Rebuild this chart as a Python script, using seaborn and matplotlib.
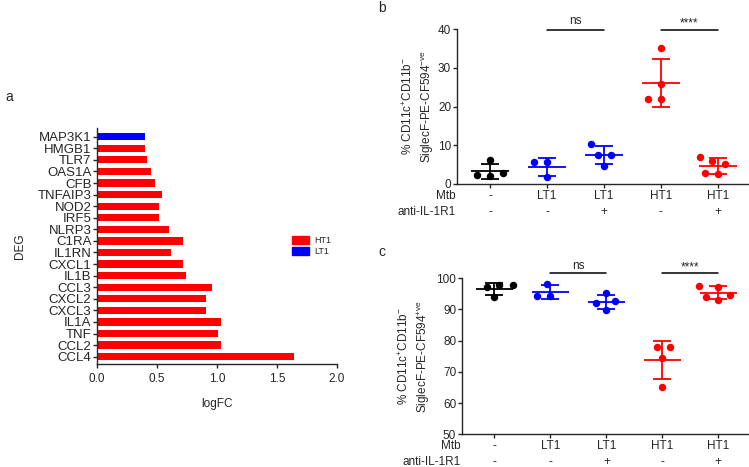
import matplotlib
matplotlib.use("Agg")
import matplotlib.pyplot as plt
import matplotlib.patches as mpatches
import seaborn as sns
import pandas as pd
import numpy as np

sns.set_style("ticks")
plt.rcParams["font.family"] = ["Liberation Sans", "DejaVu Sans"]
plt.rcParams["mathtext.fontset"] = "custom"
plt.rcParams["mathtext.rm"] = "Liberation Sans"
plt.rcParams["axes.linewidth"] = 1.0
plt.rcParams["xtick.major.width"] = 1.0
plt.rcParams["ytick.major.width"] = 1.0
plt.rcParams["xtick.major.size"] = 3
plt.rcParams["ytick.major.size"] = 3

# panel a data (top to bottom)
genes = ["MAP3K1", "HMGB1", "TLR7", "OAS1A", "CFB", "TNFAIP3", "NOD2", "IRF5",
         "NLRP3", "C1RA", "IL1RN", "CXCL1", "IL1B", "CCL3", "CXCL2", "CXCL3",
         "IL1A", "TNF", "CCL2", "CCL4"]
logfc = [0.40, 0.40, 0.415, 0.45, 0.48, 0.54, 0.52, 0.52, 0.60, 0.715,
         0.615, 0.72, 0.745, 0.96, 0.91, 0.91, 1.03, 1.01, 1.03, 1.64]
condition = ["LT1"] + ["HT1"] * 19
cond_colors = {"HT1": "#ff0000", "LT1": "#0000ff"}

# panels b and c data
groups = ["-/-", "LT1/-", "LT1/+", "HT1/-", "HT1/+"]
mtb_labels = ["-", "LT1", "LT1", "HT1", "HT1"]
ab_labels = ["-", "-", "+", "-", "+"]
group_colors = ["#000000", "#0000ff", "#0000ff", "#ff0000", "#ff0000"]

neg_vals = [[2.9, 6.2, 2.2, 2.1],
            [5.8, 5.8, 1.7],
            [10.2, 7.5, 7.5, 4.6],
            [35.0, 25.8, 21.9, 21.9],
            [7.05, 5.85, 5.2, 2.75, 2.5]]
pos_vals = [[97.9, 97.9, 97.1, 93.9],
            [98.2, 94.3, 94.3],
            [95.4, 92.6, 92.0, 89.7],
            [78.0, 78.0, 74.4, 65.2],
            [97.6, 97.3, 94.8, 94.1, 92.9]]

W, H = 749, 467
fig = plt.figure(figsize=(W / 100, H / 100), dpi=100)


def px_axes(left, top, right, bottom):
    return fig.add_axes([left / W, 1 - bottom / H, (right - left) / W, (bottom - top) / H])


# ---- panel a ----
ax_a = px_axes(97, 128, 337, 364)
df_a = pd.DataFrame({"gene": genes, "logfc": logfc, "cond": condition})
sns.barplot(data=df_a, x="logfc", y="gene", hue="cond", order=genes,
            palette=cond_colors, dodge=False, width=0.63, legend=False, ax=ax_a,
            edgecolor="none", saturation=1)
ax_a.set_xlim(0, 2.0)
ax_a.set_ylim(len(genes) - 0.37, -0.75)
ax_a.set_xticks([0, 0.5, 1.0, 1.5, 2.0])
ax_a.set_xticklabels(["0.0", "0.5", "1.0", "1.5", "2.0"], fontsize=8.5)
ax_a.tick_params(axis="y", labelsize=9.5, pad=1)
ax_a.set_xlabel("logFC", fontsize=8.5, labelpad=9)
ax_a.set_ylabel("DEG", fontsize=8.5, labelpad=8)
sns.despine(ax=ax_a)
handles = [mpatches.Patch(color=cond_colors[c], label=c) for c in ["HT1", "LT1"]]
fig.legend(handles=handles, loc="center left", bbox_to_anchor=(284 / W, 1 - 246 / H),
           frameon=False, fontsize=6.5, handlelength=1.9, handleheight=1.0,
           handletextpad=0.6, labelspacing=0.3)

swarms = []


# ---- panels b, c ----
def dot_panel(ax, values, ylabel, label_x, ylim, yticks, sig_y, ns_y, star_y):
    df = pd.DataFrame({
        "group": [g for g, v in zip(groups, values) for _ in v],
        "value": [x for v in values for x in v],
    })
    n0 = len(ax.collections)
    sns.swarmplot(data=df, x="group", y="value", hue="group", order=groups,
                  hue_order=groups, palette=group_colors, size=9, legend=False,
                  ax=ax, zorder=3, linewidth=0)
    swarms.append((ax, list(ax.collections[n0:])))
    for i, v in enumerate(values):
        m, sd = np.mean(v), np.std(v, ddof=1)
        ax.hlines(m, i - 0.33, i + 0.33, color=group_colors[i], lw=1.3, zorder=2)
        ax.errorbar(i, m, yerr=sd, color=group_colors[i], capsize=6.7,
                    lw=1.3, capthick=1.3, zorder=2)
    ax.set_xlim(-0.585, 4.53)
    ax.set_ylim(*ylim)
    ax.set_yticks(yticks)
    ax.tick_params(axis="y", labelsize=8.5, pad=1)
    ax.set_xticks(range(len(groups)))
    ax.set_xticklabels([""] * len(groups))
    ax.set_xlabel("")
    ax.set_ylabel(ylabel, fontsize=8.5, linespacing=1.35)
    ax.yaxis.set_label_coords(label_x, 0.5)
    sns.despine(ax=ax)
    tr = ax.get_xaxis_transform()
    h = ax.get_window_extent().height
    for i in range(len(groups)):
        ax.text(i, -12 / h, mtb_labels[i], transform=tr, ha="center", va="center", fontsize=8.5)
        ax.text(i, -28 / h, ab_labels[i], transform=tr, ha="center", va="center", fontsize=8.5)
    ax.text(-1 / 290, -12 / h, "Mtb", transform=ax.transAxes, ha="right", va="center", fontsize=8.5)
    ax.text(-1 / 290, -28 / h, "anti-IL-1R1", transform=ax.transAxes, ha="right", va="center", fontsize=8.5)
    for x0, x1, txt, ty in [(1, 2, "ns", ns_y), (3, 4, "****", star_y)]:
        ax.plot([x0, x1], [sig_y, sig_y], color="black", lw=1.1, clip_on=False)
        ax.text((x0 + x1) / 2, ty, txt, ha="center", va="bottom", fontsize=8.5)


ax_b = px_axes(456.7, 29, 748, 184)
dot_panel(ax_b, neg_vals,
          "% CD11c$^{\\mathregular{+}}$CD11b$^{\\mathregular{-}}$\nSiglecF-PE-CF594$^{\\mathregular{-ve}}$",
          -0.07, (0, 40), [0, 10, 20, 30, 40], 39.7, 40.6, 39.9)

ax_c = px_axes(461.7, 278.3, 748, 434.3)
dot_panel(ax_c, pos_vals,
          "% CD11c$^{\\mathregular{+}}$CD11b$^{\\mathregular{-}}$\nSiglecF-PE-CF594$^{\\mathregular{+ve}}$",
          -0.105, (50, 100), [50, 60, 70, 80, 90, 100], 101.6, 102.0, 101.7)

fig.text(5 / W, 1 - 97 / H, "a", fontsize=10, va="center")
fig.text(378 / W, 1 - 8 / H, "b", fontsize=10, va="center")
fig.text(378 / W, 1 - 252 / H, "c", fontsize=10, va="center")

# swarm layout is computed at draw time with wide spacing; then redraw smaller dots there
fig.canvas.draw()
for ax, colls in swarms:
    for coll in colls:
        offs = np.asarray(coll.get_offsets())
        fc = coll.get_facecolors()
        coll.remove()
        if len(offs):
            ax.scatter(offs[:, 0], offs[:, 1], s=29, color=fc[0], linewidths=0, zorder=3)

fig.savefig("out.png", dpi=100)
